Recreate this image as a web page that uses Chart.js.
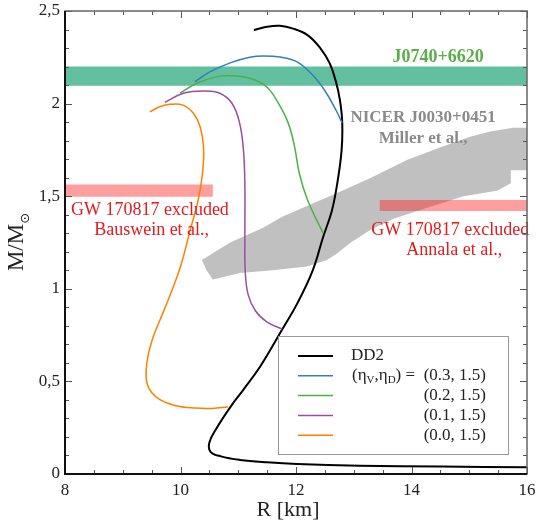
<!DOCTYPE html>
<html>
<head>
<meta charset="utf-8">
<script src="https://cdn.jsdelivr.net/npm/chart.js@4.4.0/dist/chart.umd.min.js"></script>
<style>
html,body{margin:0;padding:0;background:#fff;}
#wrap{width:536px;height:531px;}
</style>
</head>
<body>
<div id="wrap"><canvas id="grafica" width="536" height="531"></canvas></div>
<script>
// curvas masa-radio [R km, M/Msol]
var curvaDD2 = [[11.27,2.397],[11.5,2.415],[11.72,2.42],[11.95,2.405],[12.2,2.37],[12.42,2.30],[12.58,2.22],[12.69,2.12],
  [12.76,2.02],[12.8,1.90],[12.79,1.75],[12.72,1.58],[12.62,1.42],[12.47,1.28],[12.29,1.10],[12.02,0.92],[11.76,0.78],
  [11.38,0.58],[11.1,0.46],[10.86,0.36],[10.63,0.25],[10.5,0.17],[10.52,0.12],[10.7,0.095],[11.03,0.076],[11.5,0.063],
  [12.02,0.054],[13.1,0.045],[14.5,0.04],[16,0.036]];
var curva03 = [[10.25,2.118],[10.5,2.17],[10.86,2.22],[11.2,2.25],[11.43,2.257],[11.75,2.25],[12.02,2.225],[12.3,2.15],
  [12.52,2.06],[12.7,1.96],[12.8,1.895]];
var curva02 = [[9.99,2.056],[10.28,2.11],[10.6,2.143],[10.86,2.151],[11.2,2.137],[11.49,2.091],[11.7,2.0],[11.86,1.9],
  [11.97,1.776],[12.06,1.62],[12.2,1.48],[12.47,1.30]];
var curva01 = [[9.73,2.007],[10.05,2.056],[10.4,2.068],[10.68,2.056],[10.89,2.002],[11.02,1.9],[11.09,1.75],[11.115,1.55],
  [11.115,1.3],[11.12,1.1],[11.17,0.97],[11.3,0.88],[11.5,0.82],[11.76,0.783]];
var curva00 = [[9.47,1.956],[9.65,1.984],[9.82,1.996],[10.04,1.992],[10.22,1.949],[10.34,1.875],[10.4,1.76],[10.38,1.62],
  [10.3,1.47],[10.17,1.32],[10.0,1.12],[9.8,0.95],[9.645,0.832],[9.52,0.734],[9.44,0.64],[9.405,0.56],[9.42,0.49],
  [9.5,0.44],[9.65,0.40],[9.9,0.37],[10.25,0.356],[10.55,0.354],[10.82,0.362]];

// restricciones observacionales
var nicer = [[10.37,1.155],[10.6,1.2],[10.86,1.25],[11.43,1.33],[11.77,1.39],[12.36,1.47],[12.8,1.53],[13.3,1.6],
  [13.92,1.695],[14.55,1.77],[15.0,1.82],[15.36,1.85],[15.76,1.87],[16,1.87],[16,1.64],[15.72,1.64],[15.72,1.57],
  [15.48,1.53],[14.9,1.5],[14.3,1.44],[13.7,1.38],[13.3,1.32],[12.95,1.25],[12.71,1.19],[12.54,1.155],[12.19,1.12],
  [11.6,1.1],[11.03,1.085],[10.56,1.05],[10.45,1.1],[10.37,1.155]];
var bandaJ0740 = [8, 16, 2.097, 2.2];      // Rmin, Rmax, Mmin, Mmax
var bandaBauswein = [8, 10.56, 1.497, 1.563];
var bandaAnnala = [13.45, 16, 1.42, 1.48];

var etiquetas = ['DD2', '(0.3, 1.5)', '(0.2, 1.5)', '(0.1, 1.5)', '(0.0, 1.5)'];
var colores = ['#000000', '#377eb8', '#4daf4a', '#984ea3', '#ff7f00'];
var ticksX = [8, 10, 12, 14, 16];
var ticksY = [0, 0.5, 1, 1.5, 2, 2.5];

var FUENTE = 'Liberation Serif';

function puntos(lista){
  var r = [];
  for(var i=0;i<lista.length;i++) r.push({x:lista[i][0], y:lista[i][1]});
  return r;
}
function rect(b){
  return [{x:b[0],y:b[2]},{x:b[1],y:b[2]},{x:b[1],y:b[3]},{x:b[0],y:b[3]},{x:b[0],y:b[2]}];
}
function area(data, color, orden){
  return {label:'', data:data, backgroundColor:color, borderWidth:0, fill:'shape', tension:0, pointRadius:0, order:orden};
}
function linea(data, i, ancho){
  return {label:etiquetas[i], data:puntos(data), borderColor:colores[i], borderWidth:ancho, fill:false,
    tension:0.4, pointRadius:0, order:5-i};
}

var textos = [
  {t:'J0740+6620', r:14.46, m:2.252, c:'#5aaf48', f:'bold 18px'},
  {t:'NICER J0030+0451', r:14.2, m:1.922, c:'#8a8a8a', f:'bold 17px'},
  {t:'Miller et al.,', r:14.2, m:1.809, c:'#8a8a8a', f:'bold 17px'},
  {t:'GW 170817 excluded', r:9.47, m:1.426, c:'#e41a1c', f:'18px'},
  {t:'Bauswein et al.,', r:9.5, m:1.318, c:'#e41a1c', f:'18px'},
  {t:'GW 170817 excluded', r:14.67, m:1.318, c:'#e41a1c', f:'18px'},
  {t:'Annala et al.,', r:14.74, m:1.21, c:'#e41a1c', f:'18px'}
];

function dibujarMarco(chart){
  var ctx = chart.ctx, a = chart.chartArea;
  var sx = chart.scales.x, sy = chart.scales.y;
  ctx.save();
  ctx.strokeStyle = '#555'; ctx.lineWidth = 1;
  for(var i=0;i<=16;i++){
    var px = Math.round(sx.getPixelForValue(8 + i*0.5)) + 0.5;
    var l = (i%4==0) ? 7 : 4;
    ctx.beginPath();
    ctx.moveTo(px, a.bottom); ctx.lineTo(px, a.bottom - l);
    ctx.moveTo(px, a.top); ctx.lineTo(px, a.top + l);
    ctx.stroke();
  }
  for(var j=0;j<=25;j++){
    var py = Math.round(sy.getPixelForValue(j*0.1)) + 0.5;
    var l2 = (j%5==0) ? 7 : 4;
    ctx.beginPath();
    ctx.moveTo(a.left, py); ctx.lineTo(a.left + l2, py);
    ctx.moveTo(a.right, py); ctx.lineTo(a.right - l2, py);
    ctx.stroke();
  }
  ctx.strokeStyle = '#666'; ctx.lineWidth = 1.5;
  ctx.strokeRect(a.left, a.top, a.right - a.left, a.bottom - a.top);
  ctx.strokeStyle = '#111'; ctx.lineWidth = 2;
  ctx.beginPath();
  ctx.moveTo(a.left, a.top); ctx.lineTo(a.left, a.bottom); ctx.lineTo(a.right, a.bottom);
  ctx.stroke();
  ctx.restore();
}

function dibujarTextos(chart){
  var ctx = chart.ctx, sx = chart.scales.x, sy = chart.scales.y;
  ctx.save();
  ctx.textAlign = 'center'; ctx.textBaseline = 'middle';
  for(var i=0;i<textos.length;i++){
    var o = textos[i];
    ctx.font = o.f + ' "' + FUENTE + '"';
    ctx.fillStyle = o.c;
    ctx.fillText(o.t, sx.getPixelForValue(o.r), sy.getPixelForValue(o.m));
  }
  // titulos de ejes
  ctx.fillStyle = '#222';
  ctx.font = '22px "' + FUENTE + '"';
  ctx.fillText('R [km]', 288, 510);
  ctx.translate(17, 242);
  ctx.rotate(-Math.PI/2);
  ctx.font = '23px "' + FUENTE + '"';
  var w1 = ctx.measureText('M/M').width;
  ctx.font = '13px "DejaVu Sans"';
  var w2 = ctx.measureText('\u2299').width;
  var x0 = -(w1 + w2)/2;
  ctx.textAlign = 'left';
  ctx.font = '23px "' + FUENTE + '"';
  ctx.fillText('M/M', x0, 0);
  ctx.font = '13px "DejaVu Sans"';
  ctx.fillText('\u2299', x0 + w1, 9);
  ctx.restore();
}

function dibujarLeyenda(chart){
  var ctx = chart.ctx, a = chart.chartArea;
  var x0 = a.left + 213, y0 = a.top + 325, w = 230, h = 118;
  ctx.save();
  ctx.fillStyle = '#fff';
  ctx.fillRect(x0, y0, w, h);
  ctx.strokeStyle = '#999'; ctx.lineWidth = 1;
  ctx.strokeRect(x0 + 0.5, y0 + 0.5, w, h);
  ctx.textBaseline = 'middle';
  ctx.fillStyle = '#222';
  for(var i=0;i<etiquetas.length;i++){
    var yy = y0 + 20 + i*19.8;
    var ds = chart.data.datasets[i];
    ctx.strokeStyle = ds.borderColor; ctx.lineWidth = ds.borderWidth;
    ctx.beginPath(); ctx.moveTo(x0 + 20, yy); ctx.lineTo(x0 + 55, yy); ctx.stroke();
    ctx.font = '17px "' + FUENTE + '"';
    if(i==0){
      ctx.textAlign = 'left';
      ctx.fillText(etiquetas[i], x0 + 73, yy);
    }else{
      ctx.textAlign = 'right';
      ctx.fillText(etiquetas[i], x0 + 208, yy);
    }
    if(i==1){
      // (eta_V, eta_D) =
      ctx.textAlign = 'left';
      var px = x0 + 74;
      var partes = [['(\u03b7',0],['V',1],[',\u03b7',0],['D',1],[') =',0]];
      for(var k=0;k<partes.length;k++){
        ctx.font = partes[k][1] ? '11px "' + FUENTE + '"' : '17px "' + FUENTE + '"';
        ctx.fillText(partes[k][0], px, yy + (partes[k][1] ? 4 : 0));
        px += ctx.measureText(partes[k][0]).width;
      }
    }
  }
  ctx.restore();
}

var decorado = {
  id: 'decorado',
  afterDatasetsDraw: function(chart){
    dibujarTextos(chart);
    dibujarMarco(chart);
    dibujarLeyenda(chart);
  }
};

var datasets = [
  linea(curvaDD2, 0, 2),
  linea(curva03, 1, 1.5),
  linea(curva02, 2, 1.5),
  linea(curva01, 3, 1.5),
  linea(curva00, 4, 1.5),
  area(rect(bandaJ0740), '#62bfa0', 8),
  area(rect(bandaAnnala), 'rgba(255,40,40,0.45)', 9),
  area(rect(bandaBauswein), 'rgba(255,40,40,0.45)', 9),
  area(puntos(nicer), '#c0c0c0', 10)
];

var grafica = new Chart(document.getElementById('grafica'), {
  type: 'line',
  data: { datasets: datasets },
  options: {
    responsive: false,
    animation: false,
    devicePixelRatio: 1,
    layout: { padding: { top: 11, right: 9, bottom: 0, left: 0 } },
    plugins: { legend: { display: false }, tooltip: { enabled: false } },
    scales: {
      x: {
        type: 'linear', min: 8, max: 16,
        grid: { display: false, drawTicks: false },
        border: { display: false },
        afterBuildTicks: function(s){ s.ticks = ticksX.map(function(v){ return {value:v}; }); },
        afterFit: function(s){ s.height = 57; s.paddingLeft = 0; s.paddingRight = 0; },
        ticks: { padding: 6, color: '#222', font: { family: FUENTE, size: 17 } }
      },
      y: {
        type: 'linear', min: 0, max: 2.5,
        grid: { display: false, drawTicks: false },
        border: { display: false },
        afterBuildTicks: function(s){ s.ticks = ticksY.map(function(v){ return {value:v}; }); },
        afterFit: function(s){ s.width = 65; s.paddingTop = 0; s.paddingBottom = 0; },
        ticks: { padding: 5, color: '#222', font: { family: FUENTE, size: 17 },
          callback: function(v){ return String(v).replace('.', ','); } }
      }
    }
  },
  plugins: [decorado]
});
</script>
</body>
</html>
